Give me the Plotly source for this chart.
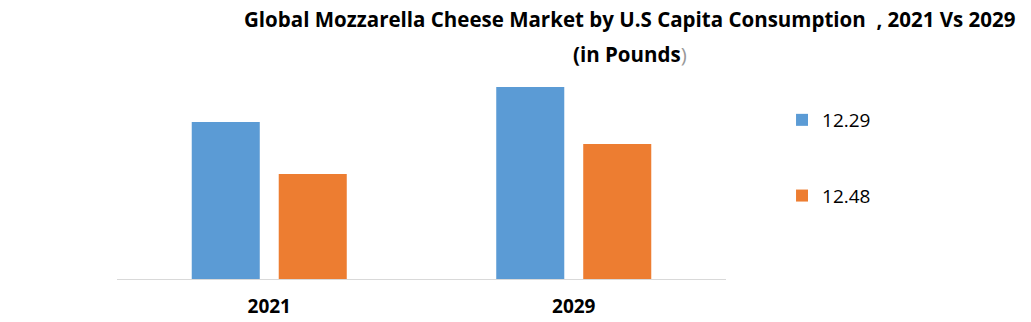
import plotly.graph_objects as go

categories = ["2021", "2029"]
series_names = ["12.29", "12.48"]
series_a = [15.7, 19.2]
series_b = [10.5, 13.5]
colors = ["#5B9BD5", "#ED7D31"]

title_line1 = "Global Mozzarella Cheese Market by U.S Capita Consumption  , 2021 Vs 2029"
title_line2 = "(in Pounds"

FONT = "Open Sans"

fig = go.Figure()
for name, vals, col in zip(series_names, [series_a, series_b], colors):
    fig.add_trace(go.Bar(x=categories, y=vals, name=name, marker_color=col,
                         marker_line_width=0, legendgroup=name))

fig.update_layout(
    width=1031, height=322,
    margin=dict(l=117, r=305, t=79, b=43, autoexpand=False),
    paper_bgcolor="white", plot_bgcolor="white",
    bargap=0.4286, bargroupgap=0.218,
    showlegend=True,
    legend=dict(x=1.092, y=0.89, xanchor="left", yanchor="top",
                font=dict(family=FONT, size=19, color="#000000"),
                tracegroupgap=48, bgcolor="rgba(0,0,0,0)"),
    font=dict(family=FONT, color="#000000"),
)
fig.update_xaxes(showline=True, linecolor="#d9d9d9", linewidth=1,
                 ticks="outside", ticklen=10, tickcolor="rgba(0,0,0,0)",
                 tickfont=dict(family=FONT, size=19, color="#000000", weight="bold"),
                 showgrid=False, automargin=False)
fig.update_yaxes(visible=False, range=[0, 20], showgrid=False, automargin=False)

fig.add_annotation(text="<b>" + title_line1 + "</b>", xref="paper", yref="paper",
                   x=0.8424, y=1.30, xanchor="center", yanchor="middle",
                   showarrow=False, font=dict(family=FONT, size=20.5, color="#000000"))
fig.add_annotation(text="<b>" + title_line2 + "</b><span style='color:#999999'>)</span>",
                   xref="paper", yref="paper",
                   x=0.8424, y=1.125, xanchor="center", yanchor="middle",
                   showarrow=False, font=dict(family=FONT, size=20.5, color="#000000"))

fig.write_html("out.html")
